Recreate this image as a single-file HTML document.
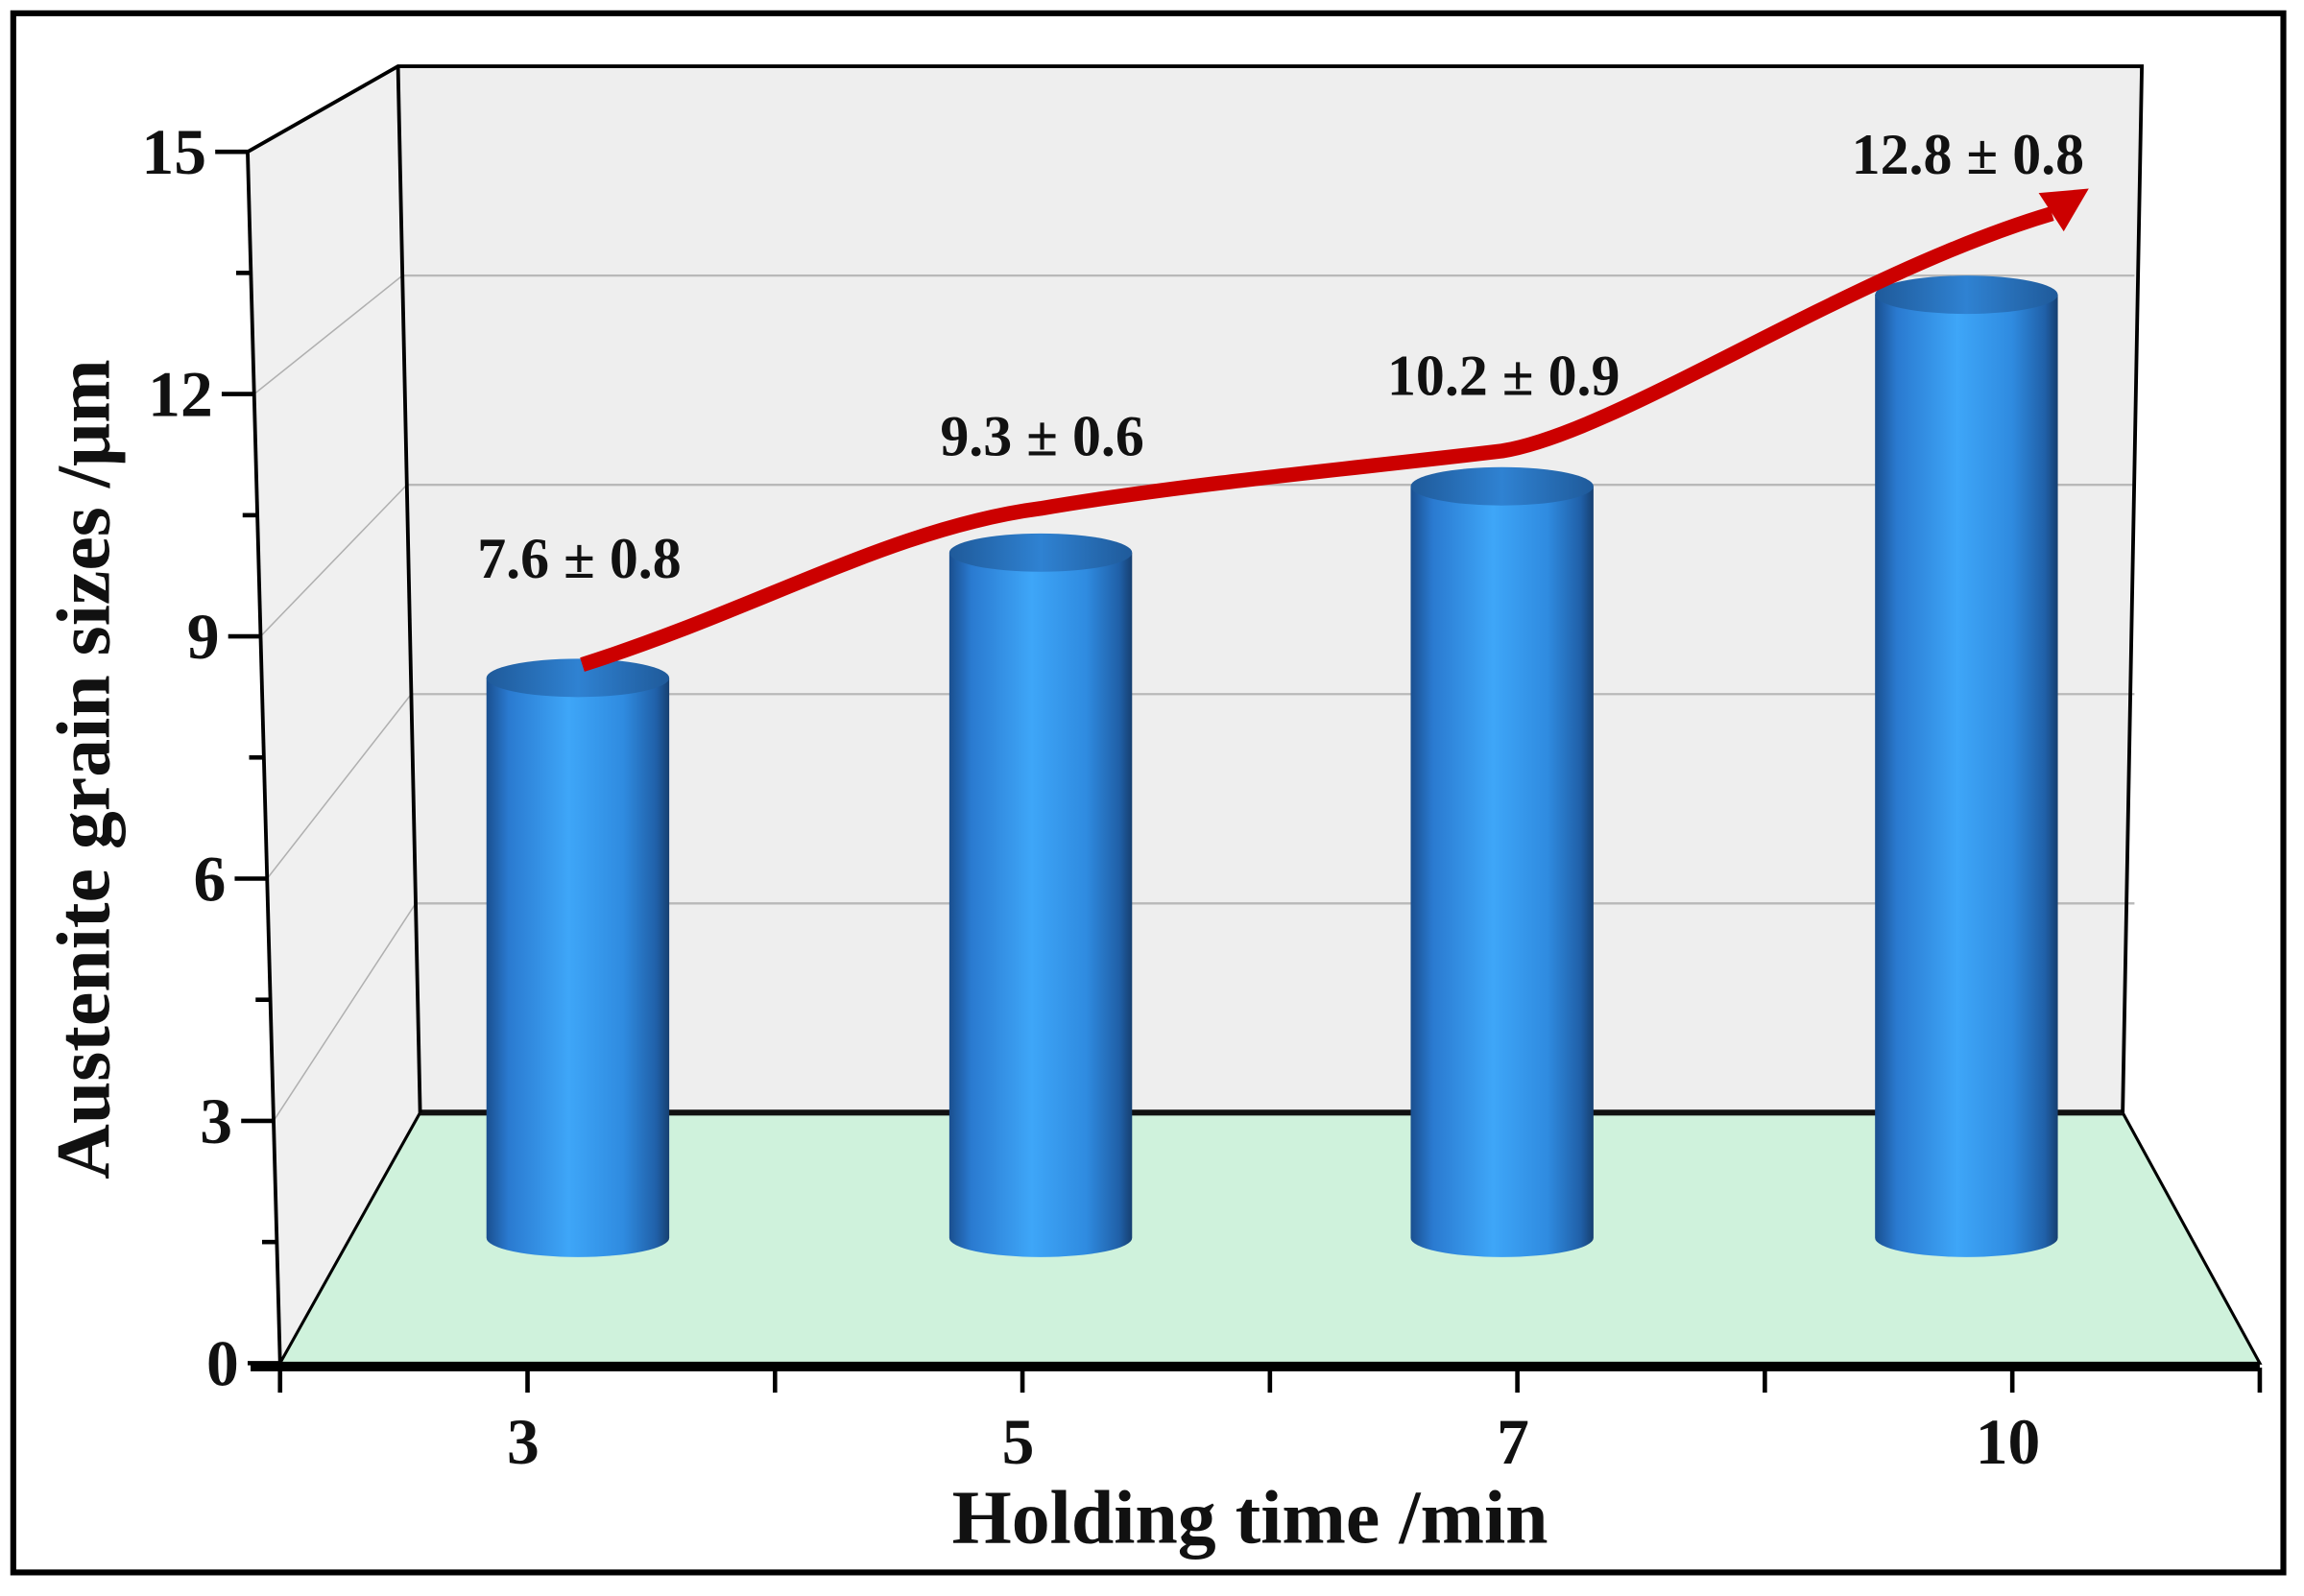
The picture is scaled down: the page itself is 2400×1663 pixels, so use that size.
<!DOCTYPE html>
<html><head><meta charset="utf-8"><style>
html,body{margin:0;padding:0;background:#fff;}
svg{display:block;}
text{font-family:"Liberation Serif",serif;font-weight:bold;fill:#111;}
</style></head><body>
<svg id="chart" width="2400" height="1663" viewBox="0 0 1563 1083" preserveAspectRatio="none" xmlns="http://www.w3.org/2000/svg">
<defs>
<linearGradient id="cyl" x1="0" x2="1" y1="0" y2="0">
<stop offset="0" stop-color="#1a4f8f"/><stop offset="0.12" stop-color="#2a7ad0"/>
<stop offset="0.45" stop-color="#3ea6f8"/><stop offset="0.75" stop-color="#2f8be0"/>
<stop offset="0.93" stop-color="#2060a8"/><stop offset="1" stop-color="#163f70"/></linearGradient>
<linearGradient id="cyltop" x1="0" x2="1" y1="0" y2="0">
<stop offset="0" stop-color="#1f5a9a"/><stop offset="0.5" stop-color="#2f82d2"/><stop offset="1" stop-color="#1f5a9a"/></linearGradient>
</defs>
<rect x="9" y="9" width="1540" height="1058" fill="#fff" stroke="#000" stroke-width="4"/>
<g id="walls"></g>
<g id="bars"></g>
<g id="trend"></g>
<g id="labels"></g>
<g id="axes"></g>
<text x="848" y="1047" font-size="52" text-anchor="middle">Holding time /min</text>
<text x="0" y="0" font-size="52" text-anchor="middle" transform="translate(74,522) rotate(-90)">Austenite grain sizes /μm</text>
</svg>
<script>
const categories = ["3","5","7","10"];
const values = [7.6, 9.3, 10.2, 12.8];
const errors = [0.8, 0.6, 0.9, 0.8];
const yTicks = [0, 3, 6, 9, 12, 15];
const NS = "http://www.w3.org/2000/svg";
function mk(tag, attrs, parent){const e=document.createElementNS(NS,tag);for(const k in attrs)e.setAttribute(k,attrs[k]);parent.appendChild(e);return e;}
const yMax = 15;
function yFront(v){return 925 - v*(925-103)/yMax;}
function xFront(v){return 190 - v*(190-168)/yMax;}
function yBack(v){return 755 - v*(755-45)/yMax;}
function xBack(v){return 285 - v*(285-270)/yMax;}
function yBar(v){return 840 - v*50;}
const barX = [392, 706, 1019, 1334];
function xCat(i){return barX[i];}

const walls = document.getElementById('walls');
let p;
p = mk('polygon',{points:"168,103 270,45 285,755 190,925",fill:"#f0f0f0",stroke:"none"},walls);


p = mk('polygon',{points:"270,45 1453,45 1440,755 285,755",fill:"#eeeeee",stroke:"none"},walls);


p = mk('polygon',{points:"190,925 1533,925 1440,755 285,755",fill:"#cff2dc",stroke:"#000","stroke-width":"2"},walls);


mk('line',{x1:285,y1:755,x2:1440,y2:755,stroke:"#111","stroke-width":"4"},walls);
yTicks.forEach(v=>{ if(v===0||v===15) return;
  const g=mk('line',{x1:xBack(v),y1:yBack(v),x2:1448,y2:yBack(v),stroke:"#b8b8b8","stroke-width":"1.5"},walls);
  
  
  const d=mk('line',{x1:xFront(v),y1:yFront(v),x2:xBack(v),y2:yBack(v),stroke:"#b0b0b0","stroke-width":"1"},walls);
  
  
});
mk('polyline',{points:"168,103 270,45 1453,45 1440,755",fill:"none",stroke:"#000","stroke-width":"2.5"},walls);
mk('line',{x1:270,y1:45,x2:285,y2:755,stroke:"#000","stroke-width":"2.5"},walls);

const bars = document.getElementById('bars');
const bw = 124, ry = 13;
values.forEach((v,i)=>{
  const cx = xCat(i), top = yBar(v), bot = 840;
  const g = mk('g',{},bars);
  
  
  mk('path',{d:`M${cx-bw/2},${top} L${cx-bw/2},${bot} A${bw/2},${ry} 0 0 0 ${cx+bw/2},${bot} L${cx+bw/2},${top} Z`,fill:"url(#cyl)"},g);
  mk('ellipse',{cx:cx,cy:top,rx:bw/2,ry:ry,fill:"url(#cyltop)"},g);
});

const trend = document.getElementById('trend');
const pts = values.map((v,i)=>[xCat(i), yBar(v)-12]);
pts[0][0]+=3;
const tipY = yBar(values[3]) - 70;
let d = `M${pts[0][0]},${pts[0][1]+3}`;
d += ` C${pts[0][0]+120},${pts[0][1]-35} ${pts[1][0]-100},${pts[1][1]-5} ${pts[1][0]},${pts[1][1]-18}`;
d += ` C${pts[1][0]+100},${pts[1][1]-35} ${pts[2][0]-100},${pts[2][1]} ${pts[2][0]},${pts[2][1]-12}`;
d += ` C${pts[2][0]+80},${pts[2][1]-25} ${pts[3][0]-80},${pts[3][1]-2} 1392,${tipY+15}`;
p = mk('path',{d:d,fill:"none",stroke:"#cc0000","stroke-width":"10","stroke-linecap":"butt"},trend);


p = mk('polygon',{points:`1417,${tipY-2} 1383,${tipY+1} 1400,${tipY+27}`,fill:"#cc0000"},trend);



const labels = document.getElementById('labels');
const labelOffsets = [-68, -66, -62, -82];
values.forEach((v,i)=>{
  const t = mk('text',{x:xCat(i)+1,y:yBar(v)+labelOffsets[i],"font-size":"39","text-anchor":"middle"},labels);
  t.textContent = v.toFixed(1)+" ± "+errors[i].toFixed(1);
  
  
});

const axes = document.getElementById('axes');
mk('line',{x1:168,y1:103,x2:190,y2:925,stroke:"#000","stroke-width":"2.5"},axes);
p = mk('line',{x1:170,y1:928,x2:1533,y2:928,stroke:"#000","stroke-width":"5"},axes);


for(let k=0;k<=10;k++){
  const v=k*1.5, major=(k%2===0);
  mk('line',{x1:xFront(v)-(major?22:10),y1:yFront(v),x2:xFront(v),y2:yFront(v),stroke:"#000","stroke-width":"3"},axes);
}
yTicks.forEach(v=>{
  const t=mk('text',{x:xFront(v)-28,y:yFront(v)+15,"font-size":"44","text-anchor":"end"},axes);
  t.textContent=String(v);
  
  
});
for(let k=0;k<=8;k++){
  const x=190+k*(1533-190)/8;
  mk('line',{x1:x,y1:928,x2:x,y2:945,stroke:"#000","stroke-width":"3"},axes);
}
categories.forEach((c,i)=>{
  const x=190+(2*i+1)*(1533-190)/8;
  const t=mk('text',{x:x-3,y:993,"font-size":"44","text-anchor":"middle"},axes);
  t.textContent=c;
  
  
});
</script>
</body></html>
